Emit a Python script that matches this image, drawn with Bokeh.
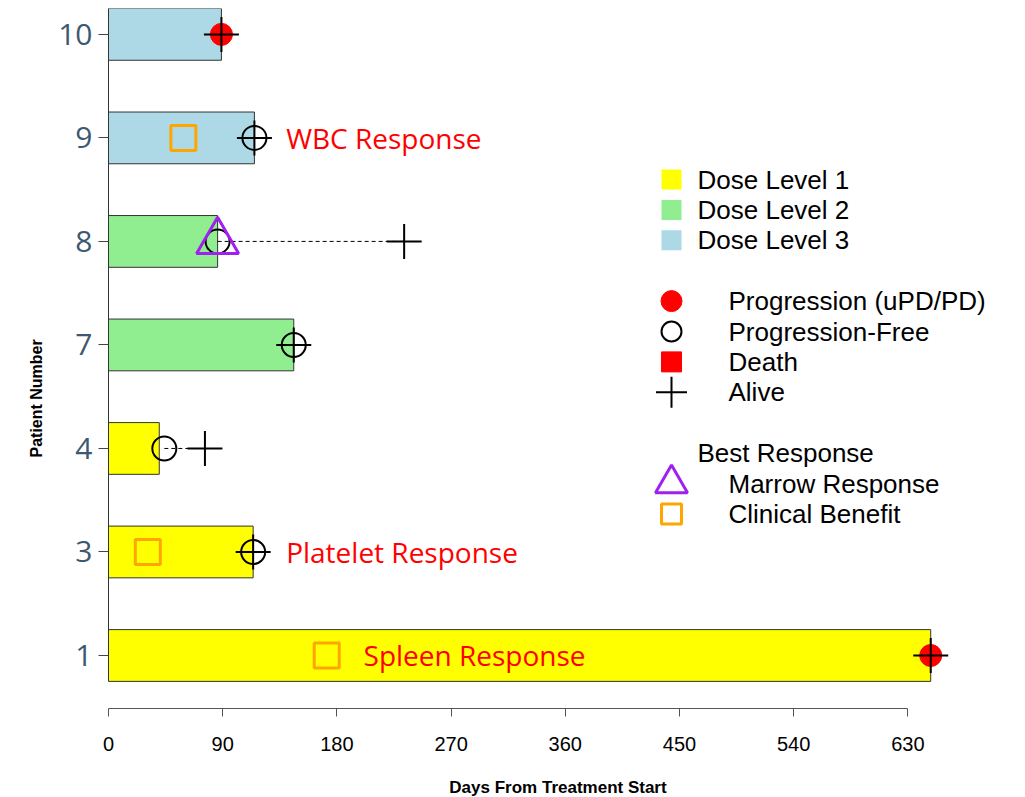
from bokeh.plotting import figure
from bokeh.models import Range1d, FixedTicker, Title, ColumnDataSource
from bokeh.core.properties import value
from bokeh.embed import file_html
from bokeh.resources import INLINE

# ---------------- data ----------------
patients = [1, 3, 4, 7, 8, 9, 10]              # bottom to top
dose_level = [1, 1, 1, 2, 2, 3, 3]
treatment_days = [648, 114, 40, 146, 86, 115, 89]   # bar length
event_days = [648, 114, 44, 146, 86, 115, 89]       # progression / censor time
progressed = [True, False, False, False, False, False, True]
alive_days = [648, 114, 76, 146, 233, 115, 89]      # last known alive

marrow_patients = [8]
marrow_days = [86]
benefit_patients = [9, 3, 1]
benefit_days = [59, 31, 172]

response_patients = [9, 3, 1]
response_labels = ["WBC Response", "Platelet Response", "Spleen Response"]
response_label_days = [140, 140, 201]

dose_names = ["Dose Level 1", "Dose Level 2", "Dose Level 3"]
dose_colors = ["#FFFF00", "#90EE90", "#ADD8E6"]

x_ticks = [0, 90, 180, 270, 360, 450, 540, 630]

# ---------------- derived ----------------
ypos = {pid: i for i, pid in enumerate(patients)}
bars = ColumnDataSource(dict(
    y=[ypos[p] for p in patients],
    right=treatment_days,
    color=[dose_colors[d - 1] for d in dose_level],
))
prog_src = ColumnDataSource(dict(
    x=[d for d, pr in zip(event_days, progressed) if pr],
    y=[ypos[p] for p, pr in zip(patients, progressed) if pr],
))
pf_src = ColumnDataSource(dict(
    x=[d for d, pr in zip(event_days, progressed) if not pr],
    y=[ypos[p] for p, pr in zip(patients, progressed) if not pr],
))
alive_src = ColumnDataSource(dict(x=alive_days, y=[ypos[p] for p in patients]))
follow_src = ColumnDataSource(dict(x0=event_days, x1=alive_days,
                                   y=[ypos[p] for p in patients]))
marrow_src = ColumnDataSource(dict(x=marrow_days, y=[ypos[p] for p in marrow_patients]))
benefit_src = ColumnDataSource(dict(x=benefit_days, y=[ypos[p] for p in benefit_patients]))
resp_src = ColumnDataSource(dict(x=response_label_days,
                                 y=[ypos[p] for p in response_patients],
                                 text=response_labels))

FRAME_W, FRAME_H = 899, 700
p = figure(frame_width=FRAME_W, frame_height=FRAME_H,
           x_range=Range1d(0, 708.5), y_range=Range1d(-0.512, 6.25),
           min_border_left=108, min_border_right=10,
           min_border_top=8, min_border_bottom=87,
           output_backend="svg", toolbar_location=None)
p.outline_line_color = None
p.xgrid.visible = False
p.ygrid.visible = False
p.background_fill_color = "white"

# bars
p.hbar(y="y", left=0, right="right", height=0.5, source=bars,
       fill_color="color", line_color="#333333", line_width=1)
# follow-up dashed lines
p.segment(x0="x0", y0="y", x1="x1", y1="y", source=follow_src,
          line_color="black", line_width=1, line_dash="4 3")
# progression
p.scatter("x", "y", source=prog_src, marker="circle", size=22,
          fill_color="#FF0000", line_color="#FF0000")
# progression-free
p.scatter("x", "y", source=pf_src, marker="circle", size=24,
          fill_color=None, line_color="black", line_width=2)
# alive
p.scatter("x", "y", source=alive_src, marker="cross", size=35,
          line_color="black", line_width=2)
# best response
p.scatter("x", "y", source=benefit_src, marker="square", size=25,
          fill_color=None, line_color="#FFA500", line_width=3)
p.scatter("x", "y", source=marrow_src, marker="triangle", size=42,
          fill_color=None, line_color="#A020F0", line_width=3)
# response annotations
p.text("x", "y", text="text", source=resp_src, text_color="#FF0000",
       text_font=value("Open Sans"), text_font_size="28px",
       text_baseline="middle", text_align="left")

# ---------------- axes ----------------
xa = p.xaxis[0]
xa.ticker = FixedTicker(ticks=x_ticks)
xa.bounds = (0, 630)
xa.axis_line_color = "#555555"
xa.major_tick_line_color = "#555555"
xa.major_tick_out = 8
xa.major_tick_in = 0
xa.minor_tick_line_color = None
xa.major_label_standoff = 20
xa.major_label_text_font = "Liberation Sans"
xa.major_label_text_font_size = "20px"
xa.major_label_text_color = "black"
xa.axis_label = "Days From Treatment Start"
xa.axis_label_text_font = "Liberation Sans"
xa.axis_label_text_font_style = "bold"
xa.axis_label_text_font_size = "17px"
xa.axis_label_text_color = "black"
xa.axis_label_standoff = 24

ya = p.yaxis[0]
ya.ticker = FixedTicker(ticks=list(range(len(patients))))
ya.major_label_overrides = {i: str(pid) for i, pid in enumerate(patients)}
ya.bounds = (-0.25, 6.25)
ya.axis_line_color = "#333333"
ya.major_tick_line_color = "#444444"
ya.major_tick_out = 10
ya.major_tick_in = 0
ya.minor_tick_line_color = None
ya.major_label_standoff = 6
ya.major_label_text_font = "Open Sans"
ya.major_label_text_font_size = "30px"
ya.major_label_text_color = "#3D5870"

# y-axis title, placed in the left panel
p.add_layout(Title(text="Patient Number", align="left", offset=251,
                   standoff=22, text_font="Liberation Sans",
                   text_font_style="bold", text_font_size="16px",
                   text_color="black"), "left")

# ---------------- legend (drawn in frame pixel space) ----------------
p.extra_x_ranges["px"] = Range1d(0, FRAME_W)
p.extra_y_ranges["py"] = Range1d(FRAME_H, 0)
LEG_X, LEG_TOP, PITCH = 563, 171, 30.4
TXT_DOSE, TXT_EV = 589, 620
LEG_FONT = "26px"

def row(k):
    return LEG_TOP + PITCH * k

# dose level patches
p.scatter(x=[LEG_X] * 3, y=[row(k) for k in range(3)], marker="square", size=20,
          fill_color=dose_colors, line_color=None,
          x_range_name="px", y_range_name="py")
p.text(x=[TXT_DOSE] * 3, y=[row(k) for k in range(3)], text=dose_names,
       text_font=value("Liberation Sans"), text_font_size=LEG_FONT,
       text_baseline="middle", text_color="black",
       x_range_name="px", y_range_name="py")

ev_labels = ["Progression (uPD/PD)", "Progression-Free", "Death", "Alive"]
ev_rows = [row(k) for k in (4, 5, 6, 7)]
p.scatter(x=[LEG_X], y=[ev_rows[0]], marker="circle", size=21,
          fill_color="#FF0000", line_color="#FF0000",
          x_range_name="px", y_range_name="py")
p.scatter(x=[LEG_X], y=[ev_rows[1]], marker="circle", size=20,
          fill_color=None, line_color="black", line_width=2,
          x_range_name="px", y_range_name="py")
p.scatter(x=[LEG_X], y=[ev_rows[2]], marker="square", size=20,
          fill_color="#FF0000", line_color="#FF0000",
          x_range_name="px", y_range_name="py")
p.scatter(x=[LEG_X], y=[ev_rows[3]], marker="cross", size=31,
          line_color="black", line_width=2,
          x_range_name="px", y_range_name="py")
p.text(x=[TXT_EV] * 4, y=ev_rows, text=ev_labels,
       text_font=value("Liberation Sans"), text_font_size=LEG_FONT,
       text_baseline="middle", text_color="black",
       x_range_name="px", y_range_name="py")

p.text(x=[TXT_DOSE], y=[row(9)], text=["Best Response"],
       text_font=value("Liberation Sans"), text_font_size=LEG_FONT,
       text_baseline="middle", text_color="black",
       x_range_name="px", y_range_name="py")
p.scatter(x=[LEG_X], y=[row(10)], marker="triangle", size=32,
          fill_color=None, line_color="#A020F0", line_width=3,
          x_range_name="px", y_range_name="py")
p.scatter(x=[LEG_X], y=[row(11)], marker="square", size=20,
          fill_color=None, line_color="#FFA500", line_width=3,
          x_range_name="px", y_range_name="py")
p.text(x=[TXT_EV] * 2, y=[row(10), row(11)],
       text=["Marrow Response", "Clinical Benefit"],
       text_font=value("Liberation Sans"), text_font_size=LEG_FONT,
       text_baseline="middle", text_color="black",
       x_range_name="px", y_range_name="py")

open("out.html", "w").write(file_html(p, INLINE))
